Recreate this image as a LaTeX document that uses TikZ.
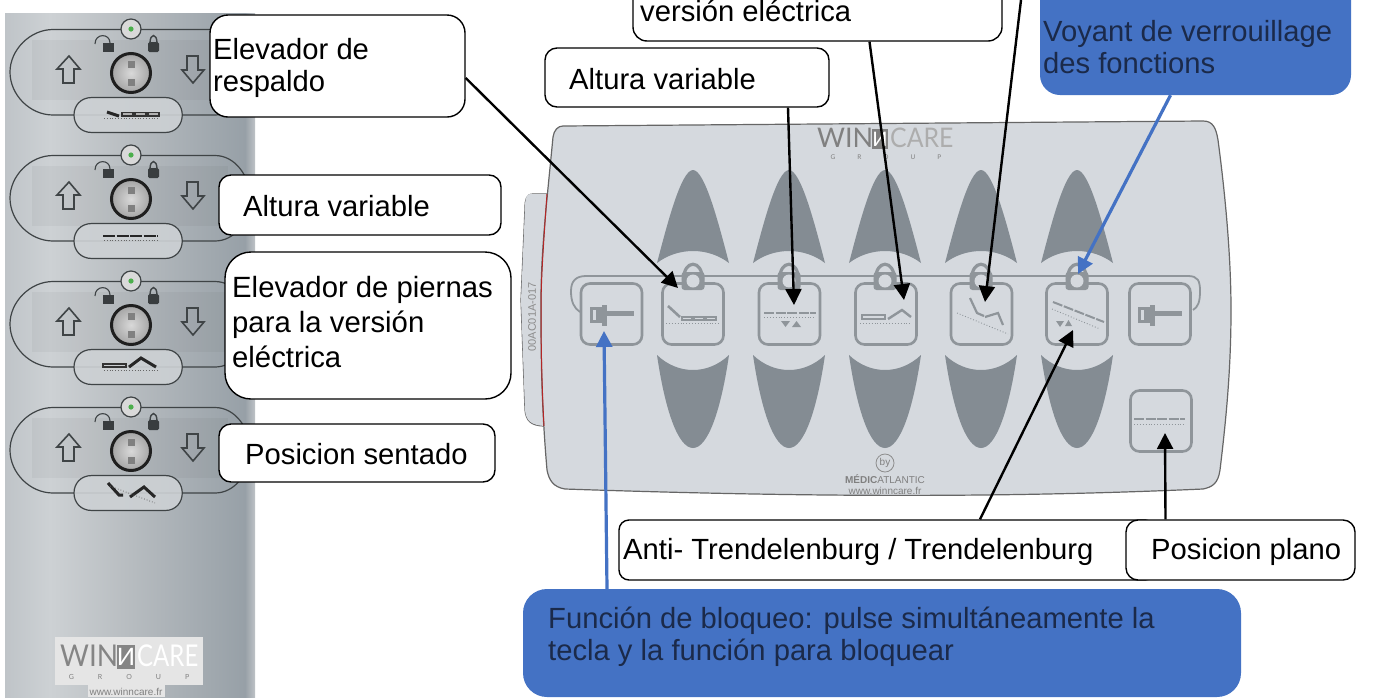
\documentclass[tikz,border=0pt]{standalone}
\usepackage{fontspec}
\usepackage{graphicx}
\setmainfont{Liberation Sans}
\newfontfamily\logofont{Lato}
\usetikzlibrary{arrows.meta,calc}
\definecolor{panelc}{HTML}{D5D9DE}
\definecolor{petalc}{HTML}{848C93}
\definecolor{btnc}{HTML}{8F959A}
\definecolor{bluec}{HTML}{4472C4}
\definecolor{inkblue}{HTML}{1B2A4A}
\definecolor{unitc}{HTML}{3F4446}
\definecolor{sa}{HTML}{BFC4C8}
\definecolor{sb}{HTML}{CDD1D4}
\definecolor{sc}{HTML}{B7BCC0}
\definecolor{sd}{HTML}{97A0A7}
\definecolor{se}{HTML}{BEC2C6}
\tikzset{
  whitebox/.style={draw=black,line width=1.4pt,fill=white,rounded corners=#1,inner sep=0pt},
  whitebox/.default=14pt,
  bluebox/.style={fill=bluec,draw=none,rounded corners=#1,inner sep=0pt},
  bluebox/.default=20pt,
  lbl/.style={anchor=west,align=left,inner sep=0pt,font=\fontsize{29.2}{32}\selectfont,text=black},
  lblb/.style={lbl,text=inkblue},
  conn/.style={draw=black,line width=2.4pt,-{Triangle[length=16pt,width=16pt]}},
  connb/.style={draw=bluec,line width=3.2pt,-{Triangle[length=16pt,width=16pt]}},
  unitline/.style={draw=unitc,line width=1.2pt},
  btn/.style={draw=btnc,line width=2.6pt,fill=panelc,rounded corners=9pt},
  ico/.style={draw=btnc,line width=1.8pt},
  icodash/.style={draw=btnc,line width=2pt,dash pattern=on 10pt off 1.6pt},
  icodot/.style={draw=btnc,line width=.9pt,dotted},
}
% name, style, cx, cy, w, h, text x, text y, text style, then the text
\newcommand{\callout}[9]{%
  \node[#2,minimum width=#5pt,minimum height=#6pt] (#1) at (#3,#4) {};
  \node[#9] (#1-t) at (#7,#8) }
\newcommand{\unitbody}[1]{%
\begin{scope}[shift={(0,#1)}]
  \fill[black,opacity=.035] (32,40) rectangle (228,100);
  \draw[unitline] (53,29.5) -- (215,29.5) .. controls (235,29.5) and (250,50) .. (250,72) .. controls (250,95) and (235,115) .. (215,115) -- (53,115) .. controls (30,115) and (10,95) .. (10,72) .. controls (10,50) and (30,29.5) .. (53,29.5) -- cycle;
  \fill[sb,opacity=.9] (92,97.5) -- (165,97.5) .. controls (188,97.5) and (188,132.5) .. (165,132.5) -- (92,132.5) .. controls (68,132.5) and (68,97.5) .. (92,97.5) -- cycle;
  \draw[unitline] (92,97.5) -- (165,97.5) .. controls (188,97.5) and (188,132.5) .. (165,132.5) -- (92,132.5) .. controls (68,132.5) and (68,97.5) .. (92,97.5) -- cycle;
  \draw[unitline,fill=black!15!white] (131,29) circle (10);
  \fill[green!55!black!70!white] (131,29) circle (2.6);
  \fill[unitc!90!black] (103,43) rectangle (114,52);
  \draw[unitc,line width=1.1pt] (95,44) .. controls (95,33) and (110,33) .. (110,43);
  \fill[unitc!90!black,rounded corners=1.5pt] (148,42) rectangle (159,52);
  \draw[unitc,line width=1.4pt] (150,43) .. controls (150,33) and (157,33) .. (157,43);
  \draw[unitc,line width=1.6pt] (69,56) -- (80,69) -- (74,69) -- (74,83) -- (63,83) -- (63,69) -- (57,69) -- cycle;
  \draw[unitc,line width=1.6pt] (193,83) -- (204,70) -- (198,70) -- (198,56) -- (187,56) -- (187,70) -- (182,70) -- cycle;
  \shade[inner color=white!85!black,outer color=black!35!white] (131,73) circle (19);
  \draw[black!88!white,line width=3pt] (131,73) circle (19.5);
  \fill[black!50!white] (127.5,60.5) rectangle (134.5,67.5);
  \fill[black!50!white] (127.5,79) rectangle (134.5,86);
\end{scope}}
\newcommand{\lockicon}[1]{%
  \draw[btnc,line width=3.2pt] (#1-9.5,280) .. controls (#1-9.5,259) and (#1+9.5,259) .. (#1+9.5,280);
  \fill[btnc,rounded corners=3pt] (#1-11.5,272) rectangle (#1+11.5,290);
  \fill[panelc] (#1,281) circle (6.5);
}
\newcommand{\keyicon}[1]{%
  \fill[btnc] (#1-21,307) rectangle (#1-8,323);
  \fill[panelc] (#1-18,310) rectangle (#1-15,320);
  \fill[btnc] (#1-9,305) rectangle (#1-4,326);
  \fill[btnc] (#1-5,311) rectangle (#1+23,316);
}
\newcommand{\uppetal}[1]{%
  \fill[petalc] (#1-36,263) .. controls (#1-26,225) and (#1-12,170) .. (#1,170) .. controls (#1+12,170) and (#1+26,225) .. (#1+36,263) .. controls (#1+15,247) and (#1-15,247) .. cycle;
}
\newcommand{\lowpetal}[1]{%
  \fill[petalc] (#1-36,355) .. controls (#1-15,375) and (#1+15,375) .. (#1+36,355) .. controls (#1+28,410) and (#1+15,448) .. (#1,448) .. controls (#1-15,448) and (#1-28,410) .. cycle;
}
\begin{document}
\begin{tikzpicture}[x=1pt,y=-1pt]
\useasboundingbox (0,0) rectangle (1392,697);
\clip (0,0) rectangle (1392,697);
\fill[white] (0,0) rectangle (1392,697);
% ---- left strip
\shade[left color=sa,right color=sb] (5,13) rectangle (50,697);
\shade[left color=sb,right color=sc] (50,13) rectangle (130,697);
\shade[left color=sc,right color=sd] (130,13) rectangle (245,697);
\shade[left color=sd,right color=se] (245,13) rectangle (255,697);
\unitbody{0}
\unitbody{126}
\unitbody{252}
\unitbody{378}
% pill icons
\draw[black!85!white,line width=3pt] (107,112) -- (119,116);
\foreach \a in {122,135,148}{\draw[black!80!white,line width=1.1pt,fill=white!70!black] (\a,112.5) rectangle ++(11,3.5);}
\draw[black!60!white,line width=.8pt,dotted] (104,118) -- (158,118);
\draw[black!85!white,line width=2.8pt,dash pattern=on 12pt off 1.5pt] (103,236) -- (158,236);
\draw[black!60!white,line width=.8pt,dotted] (104,240) -- (158,240);
\draw[black!80!white,line width=1.1pt] (103,364) rectangle (126,367);
\draw[black!85!white,line width=3pt] (129,367) -- (141,358) -- (156,367);
\draw[black!60!white,line width=.8pt,dotted] (104,370) -- (158,370);
\draw[black!85!white,line width=3pt] (108,483) -- (119,495) -- (123,495);
\draw[black!85!white,line width=3pt] (130,497) -- (144,487) -- (155,497);
\draw[black!60!white,line width=.8pt,dotted] (110,486) -- (155,503);
% left logo
\fill[black!10!white] (55,637) rectangle (203,685);
\fill[black!10!white] (88,685) rectangle (165,697);
\node[inner sep=0pt,anchor=west,text=black!48!white,font=\logofont\fontsize{30}{30}\selectfont] (llogow) at (60,656) {\scalebox{.93}[1]{WIN}};
\node[fill=black!48!white,text=white,inner sep=0pt,minimum width=18pt,minimum height=24pt,font=\logofont\fontsize{24}{24}\selectfont] (llogon) at (126,657) {И};
\node[inner sep=0pt,anchor=west,text=white,font=\logofont\fontsize{30}{30}\selectfont] (llogoc) at (137,656) {\scalebox{.8}[1]{CARE}};
\node[inner sep=0pt,text=black!50!white,font=\logofont\fontsize{7}{7}\selectfont] (llogog) at (129,677) {G\hspace{24pt}R\hspace{24pt}O\hspace{24pt}U\hspace{24pt}P};
\node[inner sep=0pt,text=black!50!white,font=\fontsize{10}{10}\selectfont] (llogou) at (126,692) {www.winncare.fr};
% ---- right panel
\draw[fill=panelc,draw=black!60!white,line width=1.2pt] (547,194) -- (533,194) .. controls (526,194) and (525,200) .. (525,208) -- (521,300) -- (525,410) .. controls (526,420) and (530,426) .. (545,426);
\fill[panelc] (548,194) -- (530,194) .. controls (526,194) and (525,200) .. (525,208) -- (521,300) -- (525,410) .. controls (526,420) and (530,426) .. (548,426) -- cycle;
\draw[draw=black!60!white,line width=1.2pt,fill=panelc] (563,126) -- (1203,121) .. controls (1213,121) and (1216,128) .. (1218,140) .. controls (1226,200) and (1231,260) .. (1231,310) .. controls (1231,370) and (1226,420) .. (1220,470) .. controls (1218,484) and (1212,487) .. (1203,489) .. controls (1000,498) and (800,497) .. (565,489) .. controls (553,487) and (549,480) .. (547,470) .. controls (541,400) and (541,350) .. (541,300) .. controls (541,250) and (547,200) .. (553,137) .. controls (554,130) and (558,126) .. (563,126) -- cycle;
\draw[red!65!black!85!white,line width=1pt] (547,194) .. controls (543,250) and (541,280) .. (541,310) .. controls (541,350) and (542,390) .. (544,426);
\node[rotate=90,inner sep=0pt,text=black!45!white,font=\fontsize{11}{11}\selectfont] (partno) at (532,317) {00AC01A-017};
\uppetal{693}\uppetal{789}\uppetal{885}\uppetal{981}\uppetal{1077}
\lowpetal{693}\lowpetal{789}\lowpetal{885}\lowpetal{981}\lowpetal{1077}
\draw[btnc,line width=1.8pt] (580,312) .. controls (574,308) and (571,302) .. (571,291) .. controls (571,281) and (576,276) .. (586,276) -- (1188,276) .. controls (1198,276) and (1200,281) .. (1200,291) .. controls (1200,302) and (1198,307) .. (1193,310);
\foreach \bx in {611.5,693,789.5,886,981.5,1077,1160}{
  \node[btn,minimum width=61pt,minimum height=61pt,inner sep=0pt] (b\bx) at (\bx,314) {};
}
\node[btn,minimum width=61pt,minimum height=61pt,inner sep=0pt] (bflat) at (1161,421) {};
\lockicon{693}\lockicon{789}\lockicon{885}\lockicon{981}\lockicon{1077}
\keyicon{611}\keyicon{1159}
% button icons
\draw[ico,line width=2.6pt] (668,306) -- (680,317);
\foreach \a in {682,694,706}{\draw[ico,line width=1.2pt] (\a,317) rectangle ++(10,3);}
\draw[icodot] (666,323) -- (720,323);
\draw[icodash] (764,313) -- (816,313);
\draw[icodot] (764,317) -- (816,317);
\fill[btnc] (781,321) -- (790,321) -- (785.5,327) -- cycle;
\fill[btnc] (792,327) -- (801,327) -- (796.5,321) -- cycle;
\draw[ico,line width=1.2pt] (862,315) rectangle (885,319);
\draw[ico,line width=2.4pt] (888,319) -- (902,310) -- (911,317);
\draw[icodot] (860,323) -- (912,323);
\draw[ico,line width=2.2pt] (970,298) -- (977,313) -- (984,316);
\draw[ico,line width=2.2pt] (985,317) -- (998,313) -- (1003,325);
\draw[icodot] (957,313) -- (1008,334);
\draw[icodash] (1053,302) -- (1104,322);
\draw[icodot] (1052,309) -- (1100,329);
\fill[btnc] (1056,321) -- (1064,321) -- (1060,327) -- cycle;
\fill[btnc] (1065,326) -- (1072,326) -- (1068.5,320) -- cycle;
\draw[icodash] (1134,419) -- (1185,419);
\draw[icodot] (1134,424) -- (1185,424);
% panel logo and footer
\node[inner sep=0pt,anchor=west,text=black!50!white,font=\logofont\fontsize{27}{27}\selectfont] (plogow) at (817,138) {WIN};
\node[fill=black!50!white,text=white,inner sep=0pt,minimum width=16pt,minimum height=20pt,font=\logofont\fontsize{20}{20}\selectfont] (plogon) at (880,139) {И};
\node[inner sep=0pt,anchor=west,text=black!32!white,font=\logofont\fontsize{27}{27}\selectfont] (plogoc) at (890,138) {\scalebox{.92}[1]{CARE}};
\node[inner sep=0pt,text=black!50!white,font=\logofont\fontsize{6.5}{6.5}\selectfont] (plogog) at (886,157) {G\hspace{22pt}R\hspace{22pt}O\hspace{22pt}U\hspace{22pt}P};
\node[draw=black!45!white,line width=.8pt,circle,minimum size=18pt,inner sep=0pt,text=black!50!white,font=\fontsize{10}{10}\selectfont] (byc) at (885,463) {by};
\node[inner sep=0pt,text=black!50!white,font=\fontsize{10}{10}\selectfont] (medic) at (885,479) {\textbf{MÉDIC}ATLANTIC};
\node[inner sep=0pt,text=black!50!white,font=\fontsize{10}{10}\selectfont] (wurl) at (885,491) {www.winncare.fr};
% ---- callouts
\callout{c1}{whitebox=18pt}{337.5}{66}{255}{102}{213}{68}{lbl}{Elevador de\\respaldo};
\callout{c2}{whitebox=12pt}{360}{205}{282}{60}{243}{206}{lbl}{Altura variable};
\callout{c3}{whitebox=26pt}{368}{325.5}{286}{147}{232}{322}{lbl,font=\fontsize{29.3}{35}\selectfont}{Elevador de piernas\\para la versión\\eléctrica};
\callout{c4}{whitebox=12pt}{357}{453}{276}{58}{245}{454}{lbl}{Posicion sentado};
\callout{c5}{whitebox=14pt}{817.5}{1}{369}{80}{640}{11}{lbl}{versión eléctrica};
\callout{c6}{whitebox=12pt}{687}{77.5}{284}{59}{569}{79}{lbl}{Altura variable};
\callout{c7}{bluebox=20pt}{1195.5}{35}{311}{120}{1043}{47}{lblb}{Voyant de verrouillage\\des fonctions};
\callout{c8}{whitebox=10pt}{887}{550}{536}{60}{623}{552}{lbl}{Anti- Trendelenburg / Trendelenburg};
\callout{c9}{whitebox=12pt}{1240.5}{550}{229}{60}{1151}{552}{lbl}{Posicion plano};
\callout{c10}{bluebox=24pt}{882}{643}{718}{108}{548}{637}{lblb}{Función de bloqueo: pulse simultáneamente la\\tecla y la función para bloquear};
% ---- connectors
\coordinate (t1) at (678,288);
\coordinate (t2) at (794,305);
\coordinate (t3) at (904,300);
\coordinate (t4) at (985,302);
\coordinate (t5) at (1078,274);
\coordinate (t6) at (1073,330);
\coordinate (t7) at (1165,433);
\coordinate (t8) at (604,331);
\coordinate (s4) at (1021,0);
\draw[conn] ([yshift=-12pt]c1.east) -- (t1);
\draw[conn] ([xshift=101pt]c6.south) -- (t2);
\draw[conn] ([xshift=52pt]c5.south) -- (t3);
\draw[conn] (s4) -- (t4);
\draw[connb] ([xshift=-25pt]c7.south) -- (t5);
\draw[conn] ([xshift=93pt]c8.north) -- (t6);
\draw[conn] ([xshift=-75pt]c9.north) -- (t7);
\draw[connb] ([xshift=-275pt]c10.north) -- (t8);
\end{tikzpicture}
\end{document}
